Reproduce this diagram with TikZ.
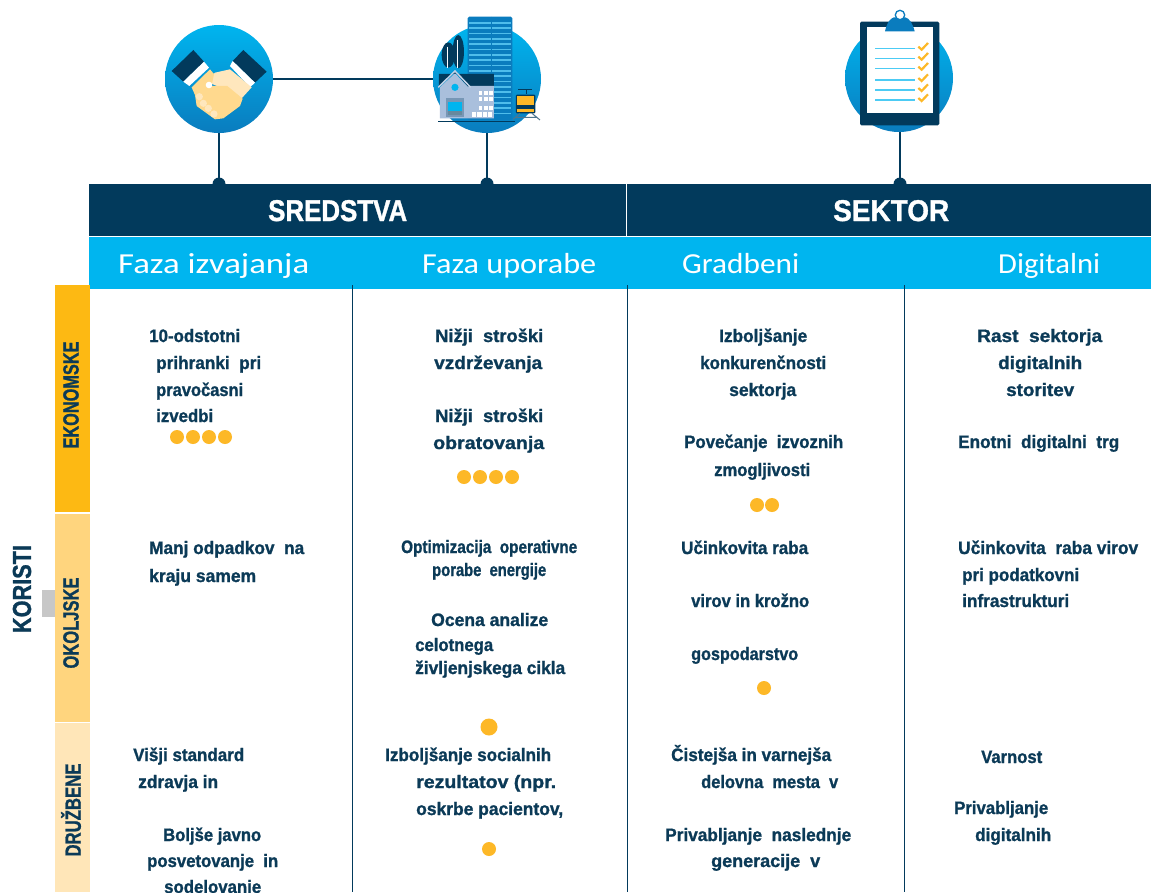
\documentclass[tikz,border=0pt]{standalone}
\usepackage{fontspec}
\usepackage{graphicx}
\setmainfont[BoldFeatures={FakeBold=1.2}]{Liberation Sans}
\newfontfamily\subfont{Carlito}
\definecolor{navy}{HTML}{023A5C}
\definecolor{sky}{HTML}{00B5EF}
\definecolor{amberA}{HTML}{FDB913}
\definecolor{amberB}{HTML}{FFD57E}
\definecolor{amberC}{HTML}{FFE6B8}
\definecolor{dotc}{HTML}{FDB827}
\definecolor{txtc}{HTML}{0B3A57}
\definecolor{skin}{HTML}{FFD98E}
\definecolor{skinl}{HTML}{FFE7BD}
\definecolor{towerc}{HTML}{0A7CBE}
\definecolor{towerl}{HTML}{4FBDEB}
\definecolor{housec}{HTML}{A9BFDC}
\tikzset{
  bodytxt/.style={inner sep=0pt,anchor=base west,text=txtc,font=\bfseries\fontsize{18}{18}\selectfont},
  discfill/.style={circle,minimum size=108pt,inner sep=0pt,top color=sky,bottom color=towerc},
  link/.style={draw=navy,line width=1.5pt},
  anchordot/.style={circle,fill=navy,minimum size=13pt,inner sep=0pt},
  gdot/.style={circle,fill=dotc,inner sep=0pt,minimum size=14pt},
  collin/.style={draw=navy,line width=1.3pt},
  headtxt/.style={inner sep=0pt,anchor=base west,text=white,font=\bfseries\fontsize{30}{30}\selectfont},
  subtxt/.style={inner sep=0pt,anchor=base west,text=white,font=\subfont\fontsize{29}{29}\selectfont},
  sidetxt/.style={inner sep=0pt,rotate=90,text=txtc,font=\bfseries\fontsize{22}{22}\selectfont},
}
\newsavebox\fitbox
\newcommand\fitw[3]{\sbox\fitbox{#3}\pgfmathsetmacro\fitr{(#2-#1)/\the\wd\fitbox}\scalebox{\fitr}[1]{\usebox\fitbox}}
\newcommand\txl[5]{\node[bodytxt] (#1) at (#2,#4+6) {\fitw{#2}{#3}{#5}};}
\newcommand\hdl[4][headtxt]{\node[#1] (#2) at (#3) {#4};}
\newcommand\sidel[4]{\node[sidetxt] (#1) at (#2) {\fitw{0}{#3}{#4}};}
\begin{document}
\begin{tikzpicture}[x=1pt,y=-1pt]
\useasboundingbox (0,0) rectangle (1151,892);
\fill[white] (0,0) rectangle (1151,892);
% discs and connectors
\node[discfill] (hand) at (219,79) {};
\node[discfill] (city) at (487,79) {};
\node[discfill] (clip) at (899,78) {};
\coordinate (hd) at (219,184);
\coordinate (cd) at (487,184);
\coordinate (kd) at (900,184);
% bands
\fill[navy] (89,184) rectangle (625.5,236);
\fill[navy] (627,184) rectangle (1151,236);
\fill[sky] (89,237) rectangle (1151,289);
\draw[link] (hand) -- (city);
\draw[link] (hand) -- (hd);
\draw[link] (city) -- (cd);
\draw[link] (clip.south -| kd) -- (kd);
\node[anchordot] (hdn) at (hd) {};
\node[anchordot] (cdn) at (cd) {};
\node[anchordot] (kdn) at (kd) {};
% handshake icon
\begin{scope}[shift={(140,0)},x=0.3333pt,y=-0.3333pt]
\fill[navy] (95,213) -- (160,150) -- (192,185) -- (130,245) -- cycle;
\fill[navy] (278,183) -- (310,150) -- (380,215) -- (345,248) -- cycle;
\fill[white] (130,245) -- (192,185) -- (207,203) -- (148,258) -- cycle;
\fill[white] (270,198) -- (278,183) -- (345,248) -- (330,262) -- cycle;
\fill[skinl] (200,245) -- (225,218) -- (270,208) -- (335,262) -- (305,295) -- (240,262) -- cycle;
\fill[skin] (155,262) -- (210,208) -- (222,222) -- (215,258) -- (262,258) -- (308,296) -- (300,318) -- (250,355) -- (225,358) -- (170,318) -- (165,285) -- cycle;
\fill[white] (207,255) circle[radius=3.3pt];
\foreach \p in {(178,290),(190,310),(205,325),(222,342)} \fill[skinl] \p circle[radius=3.6pt];
\end{scope}
% city icon
\begin{scope}[shift={(140,0)},x=0.3333pt,y=-0.3333pt]
\fill[towerc,rounded corners=1.5pt] (983,50) rectangle (1117,360);
\foreach \yy in {66,82,...,346} \fill[towerl] (986,\yy) rectangle (1114,\yy+5);
\draw[towerc,line width=1pt] (1054,50) -- (1054,355);
\fill[navy] (925,165) ellipse[x radius=20,y radius=38];
\fill[navy] (955,155) ellipse[x radius=17,y radius=50];
\draw[white,line width=.4pt] (922,140) -- (922,205) (953,120) -- (953,205);
\fill[navy] (897,222) -- (1062,222) -- (1062,262) -- (985,262) -- (945,215) -- (897,262) -- cycle;
\fill[housec] (900,355) -- (900,262) -- (945,220) -- (985,262) -- (985,258) -- (1062,258) -- (1062,355) -- cycle;
\draw[housec!70!white,line width=1.5pt] (895,262) -- (945,213) -- (992,262);
\fill[sky] (945,262) circle[radius=3.6pt];
\fill[housec!70!navy] (918,295) rectangle (972,352);
\fill[sky] (924,305) rectangle (966,332);
\fill[navy!60!white] (924,332) rectangle (966,345);
\foreach \yy in {272,290,318} \foreach \xx in {1016,1032,1048} \fill[white] (\xx,\yy) rectangle (\xx+11,\yy+13);
\foreach \xx in {995,1012,1028,1044} \fill[white] (\xx,336) rectangle (\xx+13,352);
\draw[navy,line width=1.3pt] (895,365) -- (1125,365);
% train
\draw[navy,line width=.8pt] (1135,268) -- (1175,268) (1158,268) -- (1158,282);
\fill[navy,rounded corners=1pt] (1128,284) rectangle (1186,340);
\fill[dotc] (1132,288) rectangle (1182,315);
\fill[dotc] (1132,326) rectangle (1182,336);
\draw[navy!70!white,line width=1pt] (1120,358) -- (1140,340) (1200,360) -- (1176,340) (1125,352) -- (1192,352);
\end{scope}
% clipboard icon
\begin{scope}[shift={(820,0)},x=0.3333pt,y=-0.3333pt]
\fill[navy,rounded corners=1.5pt] (120,65) rectangle (358,376);
\fill[white] (140,80) rectangle (338,338);
\fill[towerc] (195,94) .. controls (200,70) and (210,55) .. (222,52) -- (256,52) .. controls (268,55) and (278,70) .. (284,94) -- cycle;
\draw[towerc,line width=1.3pt,fill=white] (240,45) circle[radius=4.7pt];
\foreach \yy in {146,176,206,240,270,300} {
  \draw[sky!70!white,line width=1.5pt] (166,\yy) -- (284,\yy);
  \draw[dotc,line width=2.2pt] (295,\yy-6) -- (305,\yy+3) -- (324,\yy-17);
}
\end{scope}
% separators
\draw[collin] (352.5,285) -- (352.5,892);
\draw[collin] (627.5,285) -- (627.5,892);
\draw[collin] (904.5,285) -- (904.5,892);
% side bars
\fill[amberA] (55,285) rectangle (90,512);
\fill[amberB] (55,514) rectangle (90,722);
\fill[amberC] (55,723) rectangle (90,892);
\fill[black!22] (42,590) rectangle (55,617);
\sidel{sek}{71,395}{107}{EKONOMSKE}
\sidel{sok}{71,623}{91}{OKOLJSKE}
\sidel{sdr}{71,810}{93}{DRUŽBENE}
\node[inner sep=0pt,rotate=90,text=txtc,font=\bfseries\fontsize{26}{26}\selectfont] (kor) at (22,589) {\fitw{0}{88}{KORISTI}};
% headers
\hdl{h1}{268,221}{\fitw{268}{407}{SREDSTVA}}
\hdl{h2}{833,221}{\fitw{833}{949}{SEKTOR}}
\hdl[subtxt]{s1}{118,273}{\fitw{118}{309}{Faza izvajanja}}
\hdl[subtxt]{s2}{422,273}{\fitw{422}{596}{Faza uporabe}}
\hdl[subtxt]{s3}{682,273}{\fitw{682}{799}{Gradbeni}}
\hdl[subtxt]{s4}{998,273}{\fitw{998}{1100}{Digitalni}}
% column 1
\txl{a1}{149}{240}{336}{10-odstotni}
\txl{a2}{156}{261}{363}{prihranki\ \ pri}
\txl{a3}{156}{243}{390}{pravočasni}
\txl{a4}{156}{213}{416}{izvedbi}
\foreach \n/\x in {1/177,2/193,3/209,4/225} \node[gdot] (ad\n) at (\x,437) {};
\txl{a5}{149}{304}{548}{Manj odpadkov\ \ na}
\txl{a6}{149}{256}{576}{kraju samem}
\txl{a7}{133}{244}{755}{Višji standard}
\txl{a8}{138}{218}{782}{zdravja in}
\txl{a9}{163}{261}{835}{Boljše javno}
\txl{a10}{147}{278}{861}{posvetovanje\ \ in}
\txl{a11}{164}{261}{887}{sodelovanje}
% column 2
\txl{b1}{435}{543}{336}{Nižji\ \ stroški}
\txl{b2}{434}{542}{363}{vzdrževanja}
\txl{b3}{435}{543}{416}{Nižji\ \ stroški}
\txl{b4}{433}{544}{443}{obratovanja}
\foreach \n/\x in {1/464,2/480,3/496,4/512} \node[gdot] (bd\n) at (\x,477) {};
\txl{b5}{401}{577}{547}{Optimizacija\ \ operativne}
\txl{b6}{432}{546}{570}{porabe\ \ energije}
\txl{b7}{431}{548}{620}{Ocena analize}
\txl{b8}{415}{493}{645}{celotnega}
\txl{b9}{415}{565}{668}{življenjskega cikla}
\node[gdot,minimum size=17pt] (bd5) at (489,727) {};
\txl{b10}{385}{551}{755}{Izboljšanje socialnih}
\txl{b11}{416}{556}{782}{rezultatov (npr.}
\txl{b12}{416}{563}{809}{oskrbe pacientov,}
\node[gdot] (bd6) at (489,849) {};
% column 3
\txl{c1}{719}{807}{336}{Izboljšanje}
\txl{c2}{700}{826}{363}{konkurenčnosti}
\txl{c3}{729}{796}{390}{sektorja}
\txl{c4}{684}{843}{442}{Povečanje\ \ izvoznih}
\txl{c5}{714}{810}{470}{zmogljivosti}
\node[gdot] (cd1) at (757,505) {};
\node[gdot] (cd2) at (772,505) {};
\txl{c6}{681}{808}{548}{Učinkovita raba}
\txl{c7}{691}{809}{601}{virov in krožno}
\txl{c8}{691}{798}{654}{gospodarstvo}
\node[gdot] (cd3) at (764,688) {};
\txl{c9}{671}{831}{755}{Čistejša in varnejša}
\txl{c10}{701}{838}{782}{delovna\ \ mesta\ \ v}
\txl{c11}{665}{851}{835}{Privabljanje\ \ naslednje}
\txl{c12}{711}{820}{861}{generacije\ \ v}
% column 4
\txl{d1}{977}{1102}{336}{Rast\ \ sektorja}
\txl{d2}{998}{1082}{363}{digitalnih}
\txl{d3}{1006}{1074}{390}{storitev}
\txl{d4}{958}{1119}{442}{Enotni\ \ digitalni\ \ trg}
\txl{d5}{958}{1138}{548}{Učinkovita\ \ raba virov}
\txl{d6}{962}{1079}{575}{pri podatkovni}
\txl{d7}{962}{1069}{601}{infrastrukturi}
\txl{d8}{981}{1042}{757}{Varnost}
\txl{d9}{954}{1048}{808}{Privabljanje}
\txl{d10}{975}{1051}{835}{digitalnih}
\end{tikzpicture}
\end{document}
